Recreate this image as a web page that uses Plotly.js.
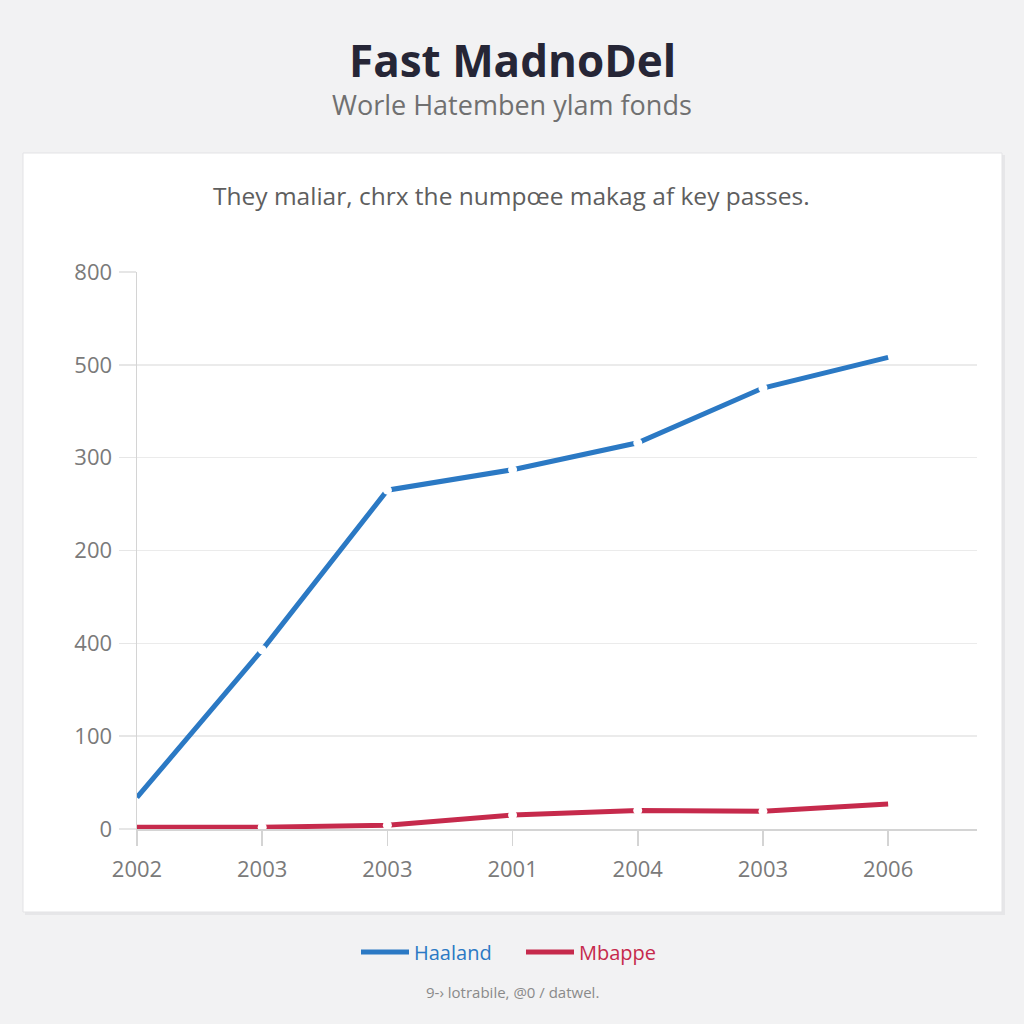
<!DOCTYPE html>
<html>
<head>
<meta charset="utf-8">
<script src="https://cdn.plot.ly/plotly-3.0.1.min.js"></script>
<style>
  html, body { margin: 0; padding: 0; background: #f2f2f3; }
  #chart { width: 1024px; height: 1024px; }
</style>
</head>
<body>
<div id="chart"></div>
<script>
// ---- data ----
const xTickLabels = ['2002', '2003', '2003', '2001', '2004', '2003', '2006'];
const xPositions = [0, 1, 2, 3, 4, 5, 6];
const yTickLabels = ['0', '100', '400', '200', '300', '500', '800'];
const yTickPositions = [0, 1, 2, 3, 4, 5, 6];
// values expressed in axis-position units (the axis labels are non-linear)
const haaland = [0.34, 1.93, 3.65, 3.87, 4.16, 4.75, 5.08];
const mbappe  = [0.02, 0.02, 0.04, 0.15, 0.20, 0.19, 0.27];
const seriesNames = ['Haaland', 'Mbappe'];
const seriesColors = ['#2b79c4', '#c62a4c'];

// ---- layout helpers ----
const W = 1024, H = 1024;
const mL = 137, mR = 47, mT = 272, mB = 195;
const pw = W - mL - mR, ph = H - mT - mB;
const px = x => (x - mL) / pw;
const py = y => (H - mB - y) / ph;

const fontFam = '"Open Sans", "Noto Sans", Arial, sans-serif';

function lineTrace(y, i) {
  return {
    x: xPositions, y: y, type: 'scatter', mode: 'lines',
    name: '<span style="color:' + seriesColors[i] + '">' + seriesNames[i] + '</span>',
    line: { color: seriesColors[i], width: 5 },
    hoverinfo: 'skip'
  };
}
function gapTrace(y) {
  // small white breaks at interior points
  return {
    x: xPositions.slice(1, -1), y: y.slice(1, -1), type: 'scatter', mode: 'markers',
    marker: { color: '#ffffff', size: 9, line: { width: 0 } },
    showlegend: false, hoverinfo: 'skip'
  };
}

const data = [
  lineTrace(haaland, 0), lineTrace(mbappe, 1),
  gapTrace(haaland), gapTrace(mbappe)
];

const layout = {
  width: W, height: H,
  margin: { l: mL, r: mR, t: mT, b: mB, pad: 0 },
  paper_bgcolor: '#f2f2f3',
  plot_bgcolor: '#ffffff',
  font: { family: fontFam, color: '#777777' },
  showlegend: true,
  legend: {
    orientation: 'h', x: px(521), xanchor: 'center', y: py(952), yanchor: 'middle',
    font: { size: 20, family: fontFam }, bgcolor: 'rgba(0,0,0,0)',
    itemwidth: 48, entrywidth: 102, entrywidthmode: 'pixels', tracegroupgap: 0
  },
  xaxis: {
    range: [0, 6.71], tickmode: 'array', tickvals: xPositions, ticktext: xTickLabels,
    showgrid: false, zeroline: false,
    showline: true, linecolor: '#d4d4d4', linewidth: 1.5,
    ticks: 'outside', ticklen: 15, tickcolor: '#d4d4d4', tickwidth: 1.5,
    ticklabelstandoff: 5,
    tickfont: { size: 22, color: '#7a7a7a', family: fontFam }, fixedrange: true
  },
  yaxis: {
    range: [0, 6.0], tickmode: 'array', tickvals: yTickPositions, ticktext: yTickLabels,
    showgrid: true, gridcolor: '#ebebeb', gridwidth: 1.5, zeroline: false,
    showline: true, linecolor: '#d4d4d4', linewidth: 1.5,
    ticks: 'outside', ticklen: 17, tickcolor: '#e6e6e6', tickwidth: 1.5,
    ticklabelstandoff: 2,
    tickfont: { size: 22, color: '#7a7a7a', family: fontFam }, fixedrange: true
  },
  shapes: [
    { type: 'rect', xref: 'paper', yref: 'paper', layer: 'below',
      x0: px(25), x1: px(1005), y0: py(915), y1: py(155),
      fillcolor: '#e6e6e8', line: { width: 0 } },
    { type: 'rect', xref: 'paper', yref: 'paper', layer: 'below',
      x0: px(23), x1: px(1002), y0: py(912), y1: py(153),
      fillcolor: '#ffffff', line: { color: '#e3e3e5', width: 1 } }
  ],
  annotations: [
    { text: '<b>Fast MadnoDel</b>', xref: 'paper', yref: 'paper',
      x: px(512), y: py(60), xanchor: 'center', yanchor: 'middle', showarrow: false,
      font: { size: 44, color: '#262636', family: fontFam } },
    { text: 'Worle Hatemben ylam fonds', xref: 'paper', yref: 'paper',
      x: px(512), y: py(105), xanchor: 'center', yanchor: 'middle', showarrow: false,
      font: { size: 27, color: '#707070', family: fontFam } },
    { text: 'They maliar, chrx the numpœe makag af key passes.', xref: 'paper', yref: 'paper',
      x: px(511), y: py(195), xanchor: 'center', yanchor: 'middle', showarrow: false,
      font: { size: 24.5, color: '#5e5e5e', family: fontFam } },
    { text: '9-› lotrabile, @0 / datwel.', xref: 'paper', yref: 'paper',
      x: px(512), y: py(992), xanchor: 'center', yanchor: 'middle', showarrow: false,
      font: { size: 15, color: '#8a8a8a', family: fontFam } }
  ]
};

Plotly.newPlot('chart', data, layout, { displayModeBar: false, staticPlot: true });
</script>
</body>
</html>
